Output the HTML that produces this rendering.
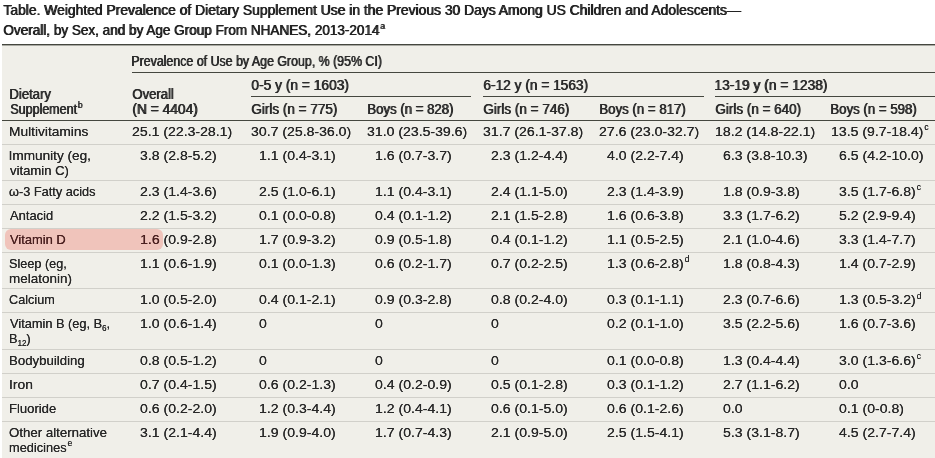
<!DOCTYPE html>
<html><head><meta charset="utf-8"><style>
html,body{margin:0;padding:0;background:#fff;}
body{width:935px;height:458px;position:relative;overflow:hidden;font-family:"Liberation Sans",sans-serif;color:#282828;}
.t{position:absolute;white-space:pre;line-height:16px;transform-origin:0 0;}
.l{position:absolute;}
.hl{position:absolute;background:#ffd1cd;border-radius:6px;z-index:5;mix-blend-mode:multiply;}
sup{font-size:68%;vertical-align:0;position:relative;top:-0.6em;margin-left:1px;}
sup.ds{font-size:60%;top:-0.7em;}
sup.ts{top:-0.75em;font-size:60%;}
sub{font-size:62%;vertical-align:0;position:relative;top:0.3em;}
</style></head><body>
<div class="t" style="left:3.39px;top:2.11px;font-size:14.4px;color:#222;text-shadow:0.9px 0 0 #222;transform:scaleX(0.9636);">Table. Weighted Prevalence of Dietary Supplement Use in the Previous 30 Days Among US Children and Adolescents—</div>
<div class="t" style="left:3.06px;top:22.31px;font-size:14.4px;color:#222;text-shadow:0.9px 0 0 #222;transform:scaleX(0.9404);">Overall, by Sex, and by Age Group From NHANES, 2013-2014<sup class='ts'>a</sup></div>
<div class="l" style="left:2px;top:44px;width:933px;height:414px;background:#f0efe9"></div>
<div class="l" style="left:2px;width:933px;top:44px;height:1px;background:#45473f"></div>
<div class="l" style="left:2px;width:933px;top:45px;height:1px;background:#a9aaa3"></div>
<div class="t" style="left:131.28px;top:53.21px;font-size:14.4px;color:#2b2b2b;text-shadow:0.85px 0 0 #2b2b2b;transform:scaleX(0.8608);">Prevalence of Use by Age Group, % (95% CI)</div>
<div class="l" style="left:132px;width:803px;top:72px;height:1px;background:#45473f"></div>
<div class="t" style="left:250.96px;top:76.81px;font-size:14.4px;color:#2b2b2b;text-shadow:0.85px 0 0 #2b2b2b;transform:scaleX(0.9568);">0-5 y (n = 1603)</div>
<div class="t" style="left:482.80px;top:76.81px;font-size:14.4px;color:#2b2b2b;text-shadow:0.85px 0 0 #2b2b2b;transform:scaleX(0.9522);">6-12 y (n = 1563)</div>
<div class="t" style="left:714.45px;top:76.81px;font-size:14.4px;color:#2b2b2b;text-shadow:0.85px 0 0 #2b2b2b;transform:scaleX(0.9584);">13-19 y (n = 1238)</div>
<div class="l" style="left:251px;width:220px;top:96px;height:1px;background:#45473f"></div>
<div class="l" style="left:483px;width:220.5px;top:96px;height:1px;background:#45473f"></div>
<div class="l" style="left:715px;width:220px;top:96px;height:1px;background:#45473f"></div>
<div class="t" style="left:9.12px;top:85.61px;font-size:14.4px;color:#2b2b2b;text-shadow:0.85px 0 0 #2b2b2b;transform:scaleX(0.9122);">Dietary</div>
<div class="t" style="left:9.63px;top:100.61px;font-size:14.4px;color:#2b2b2b;text-shadow:0.85px 0 0 #2b2b2b;transform:scaleX(0.8674);">Supplement<sup>b</sup></div>
<div class="t" style="left:131.88px;top:85.61px;font-size:14.4px;color:#2b2b2b;text-shadow:0.85px 0 0 #2b2b2b;transform:scaleX(0.9098);">Overall</div>
<div class="t" style="left:131.65px;top:100.61px;font-size:14.4px;color:#2b2b2b;text-shadow:0.85px 0 0 #2b2b2b;transform:scaleX(0.9566);">(N = 4404)</div>
<div class="t" style="left:250.82px;top:100.81px;font-size:14.4px;color:#2b2b2b;text-shadow:0.85px 0 0 #2b2b2b;transform:scaleX(0.9388);">Girls (n = 775)</div>
<div class="t" style="left:366.67px;top:100.81px;font-size:14.4px;color:#2b2b2b;text-shadow:0.85px 0 0 #2b2b2b;transform:scaleX(0.9160);">Boys (n = 828)</div>
<div class="t" style="left:482.82px;top:100.81px;font-size:14.4px;color:#2b2b2b;text-shadow:0.85px 0 0 #2b2b2b;transform:scaleX(0.9388);">Girls (n = 746)</div>
<div class="t" style="left:598.66px;top:100.81px;font-size:14.4px;color:#2b2b2b;text-shadow:0.85px 0 0 #2b2b2b;transform:scaleX(0.9188);">Boys (n = 817)</div>
<div class="t" style="left:714.82px;top:100.81px;font-size:14.4px;color:#2b2b2b;text-shadow:0.85px 0 0 #2b2b2b;transform:scaleX(0.9360);">Girls (n = 640)</div>
<div class="t" style="left:830.41px;top:100.81px;font-size:14.4px;color:#2b2b2b;text-shadow:0.85px 0 0 #2b2b2b;transform:scaleX(0.9188);">Boys (n = 598)</div>
<div class="l" style="left:2px;width:933px;top:120px;height:1px;background:#45473f"></div>
<div class="t" style="left:8.67px;top:123.99px;font-size:13.6px;text-shadow:0.12px 0 0 #282828;transform:scaleX(1.0093);">Multivitamins</div>
<div class="t" style="left:131.80px;top:123.99px;font-size:13.6px;text-shadow:0.12px 0 0 #282828;transform:scaleX(1.0350);">25.1 (22.3-28.1)</div>
<div class="t" style="left:251.00px;top:123.99px;font-size:13.6px;text-shadow:0.12px 0 0 #282828;transform:scaleX(1.0350);">30.7 (25.8-36.0)</div>
<div class="t" style="left:367.20px;top:123.99px;font-size:13.6px;text-shadow:0.12px 0 0 #282828;transform:scaleX(1.0350);">31.0 (23.5-39.6)</div>
<div class="t" style="left:483.00px;top:123.99px;font-size:13.6px;text-shadow:0.12px 0 0 #282828;transform:scaleX(1.0350);">31.7 (26.1-37.8)</div>
<div class="t" style="left:599.20px;top:123.99px;font-size:13.6px;text-shadow:0.12px 0 0 #282828;transform:scaleX(1.0350);">27.6 (23.0-32.7)</div>
<div class="t" style="left:715.00px;top:123.99px;font-size:13.6px;text-shadow:0.12px 0 0 #282828;transform:scaleX(1.0350);">18.2 (14.8-22.1)</div>
<div class="t" style="left:831.20px;top:123.99px;font-size:13.6px;text-shadow:0.12px 0 0 #282828;transform:scaleX(1.0350);">13.5 (9.7-18.4)<sup class="ds">c</sup></div>
<div class="l" style="left:2px;width:933px;top:144px;height:1px;background:#d1d0ca"></div>
<div class="t" style="left:8.55px;top:147.79px;font-size:13.6px;text-shadow:0.12px 0 0 #282828;">Immunity (eg,</div>
<div class="t" style="left:9.76px;top:162.79px;font-size:13.6px;text-shadow:0.12px 0 0 #282828;transform:scaleX(0.9616);">vitamin C)</div>
<div class="t" style="left:139.63px;top:147.79px;font-size:13.6px;text-shadow:0.12px 0 0 #282828;transform:scaleX(1.0350);">3.8 (2.8-5.2)</div>
<div class="t" style="left:258.83px;top:147.79px;font-size:13.6px;text-shadow:0.12px 0 0 #282828;transform:scaleX(1.0350);">1.1 (0.4-3.1)</div>
<div class="t" style="left:375.03px;top:147.79px;font-size:13.6px;text-shadow:0.12px 0 0 #282828;transform:scaleX(1.0350);">1.6 (0.7-3.7)</div>
<div class="t" style="left:490.83px;top:147.79px;font-size:13.6px;text-shadow:0.12px 0 0 #282828;transform:scaleX(1.0350);">2.3 (1.2-4.4)</div>
<div class="t" style="left:607.03px;top:147.79px;font-size:13.6px;text-shadow:0.12px 0 0 #282828;transform:scaleX(1.0350);">4.0 (2.2-7.4)</div>
<div class="t" style="left:722.83px;top:147.79px;font-size:13.6px;text-shadow:0.12px 0 0 #282828;transform:scaleX(1.0350);">6.3 (3.8-10.3)</div>
<div class="t" style="left:839.03px;top:147.79px;font-size:13.6px;text-shadow:0.12px 0 0 #282828;transform:scaleX(1.0350);">6.5 (4.2-10.0)</div>
<div class="l" style="left:2px;width:933px;top:180px;height:1px;background:#d1d0ca"></div>
<div class="t" style="left:9.28px;top:183.99px;font-size:13.6px;text-shadow:0.12px 0 0 #282828;transform:scaleX(0.9375);">ω-3 Fatty acids</div>
<div class="t" style="left:139.63px;top:183.99px;font-size:13.6px;text-shadow:0.12px 0 0 #282828;transform:scaleX(1.0350);">2.3 (1.4-3.6)</div>
<div class="t" style="left:258.83px;top:183.99px;font-size:13.6px;text-shadow:0.12px 0 0 #282828;transform:scaleX(1.0350);">2.5 (1.0-6.1)</div>
<div class="t" style="left:375.03px;top:183.99px;font-size:13.6px;text-shadow:0.12px 0 0 #282828;transform:scaleX(1.0350);">1.1 (0.4-3.1)</div>
<div class="t" style="left:490.83px;top:183.99px;font-size:13.6px;text-shadow:0.12px 0 0 #282828;transform:scaleX(1.0350);">2.4 (1.1-5.0)</div>
<div class="t" style="left:607.03px;top:183.99px;font-size:13.6px;text-shadow:0.12px 0 0 #282828;transform:scaleX(1.0350);">2.3 (1.4-3.9)</div>
<div class="t" style="left:722.83px;top:183.99px;font-size:13.6px;text-shadow:0.12px 0 0 #282828;transform:scaleX(1.0350);">1.8 (0.9-3.8)</div>
<div class="t" style="left:839.03px;top:183.99px;font-size:13.6px;text-shadow:0.12px 0 0 #282828;transform:scaleX(1.0350);">3.5 (1.7-6.8)<sup class="ds">c</sup></div>
<div class="l" style="left:2px;width:933px;top:204px;height:1px;background:#d1d0ca"></div>
<div class="t" style="left:9.77px;top:207.89px;font-size:13.6px;text-shadow:0.12px 0 0 #282828;transform:scaleX(0.9504);">Antacid</div>
<div class="t" style="left:139.63px;top:207.89px;font-size:13.6px;text-shadow:0.12px 0 0 #282828;transform:scaleX(1.0350);">2.2 (1.5-3.2)</div>
<div class="t" style="left:258.83px;top:207.89px;font-size:13.6px;text-shadow:0.12px 0 0 #282828;transform:scaleX(1.0350);">0.1 (0.0-0.8)</div>
<div class="t" style="left:375.03px;top:207.89px;font-size:13.6px;text-shadow:0.12px 0 0 #282828;transform:scaleX(1.0350);">0.4 (0.1-1.2)</div>
<div class="t" style="left:490.83px;top:207.89px;font-size:13.6px;text-shadow:0.12px 0 0 #282828;transform:scaleX(1.0350);">2.1 (1.5-2.8)</div>
<div class="t" style="left:607.03px;top:207.89px;font-size:13.6px;text-shadow:0.12px 0 0 #282828;transform:scaleX(1.0350);">1.6 (0.6-3.8)</div>
<div class="t" style="left:722.83px;top:207.89px;font-size:13.6px;text-shadow:0.12px 0 0 #282828;transform:scaleX(1.0350);">3.3 (1.7-6.2)</div>
<div class="t" style="left:839.03px;top:207.89px;font-size:13.6px;text-shadow:0.12px 0 0 #282828;transform:scaleX(1.0350);">5.2 (2.9-9.4)</div>
<div class="l" style="left:2px;width:933px;top:228px;height:1px;background:#d1d0ca"></div>
<div class="hl" style="left:4.75px;top:229px;width:158px;height:21px;"></div>
<div class="t" style="left:9.74px;top:231.99px;font-size:13.6px;color:#4a2626;text-shadow:0.12px 0 0 #4a2626;transform:scaleX(0.9484);">Vitamin D</div>
<div class="t" style="left:139.63px;top:231.99px;font-size:13.6px;text-shadow:0.12px 0 0 #282828;transform:scaleX(1.0350);"><span style="color:#4a2626;text-shadow:0.2px 0 0 #4a2626">1.6</span> (0.9-2.8)</div>
<div class="t" style="left:258.83px;top:231.99px;font-size:13.6px;text-shadow:0.12px 0 0 #282828;transform:scaleX(1.0350);">1.7 (0.9-3.2)</div>
<div class="t" style="left:375.03px;top:231.99px;font-size:13.6px;text-shadow:0.12px 0 0 #282828;transform:scaleX(1.0350);">0.9 (0.5-1.8)</div>
<div class="t" style="left:490.83px;top:231.99px;font-size:13.6px;text-shadow:0.12px 0 0 #282828;transform:scaleX(1.0350);">0.4 (0.1-1.2)</div>
<div class="t" style="left:607.03px;top:231.99px;font-size:13.6px;text-shadow:0.12px 0 0 #282828;transform:scaleX(1.0350);">1.1 (0.5-2.5)</div>
<div class="t" style="left:722.83px;top:231.99px;font-size:13.6px;text-shadow:0.12px 0 0 #282828;transform:scaleX(1.0350);">2.1 (1.0-4.6)</div>
<div class="t" style="left:839.03px;top:231.99px;font-size:13.6px;text-shadow:0.12px 0 0 #282828;transform:scaleX(1.0350);">3.3 (1.4-7.7)</div>
<div class="l" style="left:2px;width:933px;top:252px;height:1px;background:#d1d0ca"></div>
<div class="t" style="left:9.23px;top:255.99px;font-size:13.6px;text-shadow:0.12px 0 0 #282828;transform:scaleX(0.9310);">Sleep (eg,</div>
<div class="t" style="left:8.90px;top:270.99px;font-size:13.6px;text-shadow:0.12px 0 0 #282828;transform:scaleX(0.9920);">melatonin)</div>
<div class="t" style="left:139.63px;top:255.99px;font-size:13.6px;text-shadow:0.12px 0 0 #282828;transform:scaleX(1.0350);">1.1 (0.6-1.9)</div>
<div class="t" style="left:258.83px;top:255.99px;font-size:13.6px;text-shadow:0.12px 0 0 #282828;transform:scaleX(1.0350);">0.1 (0.0-1.3)</div>
<div class="t" style="left:375.03px;top:255.99px;font-size:13.6px;text-shadow:0.12px 0 0 #282828;transform:scaleX(1.0350);">0.6 (0.2-1.7)</div>
<div class="t" style="left:490.83px;top:255.99px;font-size:13.6px;text-shadow:0.12px 0 0 #282828;transform:scaleX(1.0350);">0.7 (0.2-2.5)</div>
<div class="t" style="left:607.03px;top:255.99px;font-size:13.6px;text-shadow:0.12px 0 0 #282828;transform:scaleX(1.0350);">1.3 (0.6-2.8)<sup class="ds">d</sup></div>
<div class="t" style="left:722.83px;top:255.99px;font-size:13.6px;text-shadow:0.12px 0 0 #282828;transform:scaleX(1.0350);">1.8 (0.8-4.3)</div>
<div class="t" style="left:839.03px;top:255.99px;font-size:13.6px;text-shadow:0.12px 0 0 #282828;transform:scaleX(1.0350);">1.4 (0.7-2.9)</div>
<div class="l" style="left:2px;width:933px;top:288px;height:1px;background:#d1d0ca"></div>
<div class="t" style="left:9.16px;top:292.29px;font-size:13.6px;text-shadow:0.12px 0 0 #282828;transform:scaleX(0.9309);">Calcium</div>
<div class="t" style="left:139.63px;top:292.29px;font-size:13.6px;text-shadow:0.12px 0 0 #282828;transform:scaleX(1.0350);">1.0 (0.5-2.0)</div>
<div class="t" style="left:258.83px;top:292.29px;font-size:13.6px;text-shadow:0.12px 0 0 #282828;transform:scaleX(1.0350);">0.4 (0.1-2.1)</div>
<div class="t" style="left:375.03px;top:292.29px;font-size:13.6px;text-shadow:0.12px 0 0 #282828;transform:scaleX(1.0350);">0.9 (0.3-2.8)</div>
<div class="t" style="left:490.83px;top:292.29px;font-size:13.6px;text-shadow:0.12px 0 0 #282828;transform:scaleX(1.0350);">0.8 (0.2-4.0)</div>
<div class="t" style="left:607.03px;top:292.29px;font-size:13.6px;text-shadow:0.12px 0 0 #282828;transform:scaleX(1.0350);">0.3 (0.1-1.1)</div>
<div class="t" style="left:722.83px;top:292.29px;font-size:13.6px;text-shadow:0.12px 0 0 #282828;transform:scaleX(1.0350);">2.3 (0.7-6.6)</div>
<div class="t" style="left:839.03px;top:292.29px;font-size:13.6px;text-shadow:0.12px 0 0 #282828;transform:scaleX(1.0350);">1.3 (0.5-3.2)<sup class="ds">d</sup></div>
<div class="l" style="left:2px;width:933px;top:312px;height:1px;background:#d1d0ca"></div>
<div class="t" style="left:9.74px;top:316.39px;font-size:13.6px;text-shadow:0.12px 0 0 #282828;transform:scaleX(0.9400);">Vitamin B (eg, B<sub>6</sub>,</div>
<div class="t" style="left:8.75px;top:331.39px;font-size:13.6px;text-shadow:0.12px 0 0 #282828;transform:scaleX(0.9400);">B<sub>12</sub>)</div>
<div class="t" style="left:139.63px;top:316.39px;font-size:13.6px;text-shadow:0.12px 0 0 #282828;transform:scaleX(1.0350);">1.0 (0.6-1.4)</div>
<div class="t" style="left:258.83px;top:316.39px;font-size:13.6px;text-shadow:0.12px 0 0 #282828;transform:scaleX(1.0350);">0</div>
<div class="t" style="left:375.03px;top:316.39px;font-size:13.6px;text-shadow:0.12px 0 0 #282828;transform:scaleX(1.0350);">0</div>
<div class="t" style="left:490.83px;top:316.39px;font-size:13.6px;text-shadow:0.12px 0 0 #282828;transform:scaleX(1.0350);">0</div>
<div class="t" style="left:607.03px;top:316.39px;font-size:13.6px;text-shadow:0.12px 0 0 #282828;transform:scaleX(1.0350);">0.2 (0.1-1.0)</div>
<div class="t" style="left:722.83px;top:316.39px;font-size:13.6px;text-shadow:0.12px 0 0 #282828;transform:scaleX(1.0350);">3.5 (2.2-5.6)</div>
<div class="t" style="left:839.03px;top:316.39px;font-size:13.6px;text-shadow:0.12px 0 0 #282828;transform:scaleX(1.0350);">1.6 (0.7-3.6)</div>
<div class="l" style="left:2px;width:933px;top:349px;height:1px;background:#d1d0ca"></div>
<div class="t" style="left:8.72px;top:352.79px;font-size:13.6px;text-shadow:0.12px 0 0 #282828;transform:scaleX(0.9719);">Bodybuilding</div>
<div class="t" style="left:139.63px;top:352.79px;font-size:13.6px;text-shadow:0.12px 0 0 #282828;transform:scaleX(1.0350);">0.8 (0.5-1.2)</div>
<div class="t" style="left:258.83px;top:352.79px;font-size:13.6px;text-shadow:0.12px 0 0 #282828;transform:scaleX(1.0350);">0</div>
<div class="t" style="left:375.03px;top:352.79px;font-size:13.6px;text-shadow:0.12px 0 0 #282828;transform:scaleX(1.0350);">0</div>
<div class="t" style="left:490.83px;top:352.79px;font-size:13.6px;text-shadow:0.12px 0 0 #282828;transform:scaleX(1.0350);">0</div>
<div class="t" style="left:607.03px;top:352.79px;font-size:13.6px;text-shadow:0.12px 0 0 #282828;transform:scaleX(1.0350);">0.1 (0.0-0.8)</div>
<div class="t" style="left:722.83px;top:352.79px;font-size:13.6px;text-shadow:0.12px 0 0 #282828;transform:scaleX(1.0350);">1.3 (0.4-4.4)</div>
<div class="t" style="left:839.03px;top:352.79px;font-size:13.6px;text-shadow:0.12px 0 0 #282828;transform:scaleX(1.0350);">3.0 (1.3-6.6)<sup class="ds">c</sup></div>
<div class="l" style="left:2px;width:933px;top:373px;height:1px;background:#d1d0ca"></div>
<div class="t" style="left:8.52px;top:376.89px;font-size:13.6px;text-shadow:0.12px 0 0 #282828;transform:scaleX(1.0214);">Iron</div>
<div class="t" style="left:139.63px;top:376.89px;font-size:13.6px;text-shadow:0.12px 0 0 #282828;transform:scaleX(1.0350);">0.7 (0.4-1.5)</div>
<div class="t" style="left:258.83px;top:376.89px;font-size:13.6px;text-shadow:0.12px 0 0 #282828;transform:scaleX(1.0350);">0.6 (0.2-1.3)</div>
<div class="t" style="left:375.03px;top:376.89px;font-size:13.6px;text-shadow:0.12px 0 0 #282828;transform:scaleX(1.0350);">0.4 (0.2-0.9)</div>
<div class="t" style="left:490.83px;top:376.89px;font-size:13.6px;text-shadow:0.12px 0 0 #282828;transform:scaleX(1.0350);">0.5 (0.1-2.8)</div>
<div class="t" style="left:607.03px;top:376.89px;font-size:13.6px;text-shadow:0.12px 0 0 #282828;transform:scaleX(1.0350);">0.3 (0.1-1.2)</div>
<div class="t" style="left:722.83px;top:376.89px;font-size:13.6px;text-shadow:0.12px 0 0 #282828;transform:scaleX(1.0350);">2.7 (1.1-6.2)</div>
<div class="t" style="left:839.03px;top:376.89px;font-size:13.6px;text-shadow:0.12px 0 0 #282828;transform:scaleX(1.0350);">0.0</div>
<div class="l" style="left:2px;width:933px;top:397px;height:1px;background:#d1d0ca"></div>
<div class="t" style="left:8.73px;top:400.79px;font-size:13.6px;text-shadow:0.12px 0 0 #282828;transform:scaleX(0.9597);">Fluoride</div>
<div class="t" style="left:139.63px;top:400.79px;font-size:13.6px;text-shadow:0.12px 0 0 #282828;transform:scaleX(1.0350);">0.6 (0.2-2.0)</div>
<div class="t" style="left:258.83px;top:400.79px;font-size:13.6px;text-shadow:0.12px 0 0 #282828;transform:scaleX(1.0350);">1.2 (0.3-4.4)</div>
<div class="t" style="left:375.03px;top:400.79px;font-size:13.6px;text-shadow:0.12px 0 0 #282828;transform:scaleX(1.0350);">1.2 (0.4-4.1)</div>
<div class="t" style="left:490.83px;top:400.79px;font-size:13.6px;text-shadow:0.12px 0 0 #282828;transform:scaleX(1.0350);">0.6 (0.1-5.0)</div>
<div class="t" style="left:607.03px;top:400.79px;font-size:13.6px;text-shadow:0.12px 0 0 #282828;transform:scaleX(1.0350);">0.6 (0.1-2.6)</div>
<div class="t" style="left:722.83px;top:400.79px;font-size:13.6px;text-shadow:0.12px 0 0 #282828;transform:scaleX(1.0350);">0.0</div>
<div class="t" style="left:839.03px;top:400.79px;font-size:13.6px;text-shadow:0.12px 0 0 #282828;transform:scaleX(1.0350);">0.1 (0-0.8)</div>
<div class="l" style="left:2px;width:933px;top:421px;height:1px;background:#d1d0ca"></div>
<div class="t" style="left:9.17px;top:424.89px;font-size:13.6px;text-shadow:0.12px 0 0 #282828;transform:scaleX(0.9745);">Other alternative</div>
<div class="t" style="left:8.95px;top:439.89px;font-size:13.6px;text-shadow:0.12px 0 0 #282828;transform:scaleX(0.9400);">medicines<sup>e</sup></div>
<div class="t" style="left:139.63px;top:424.89px;font-size:13.6px;text-shadow:0.12px 0 0 #282828;transform:scaleX(1.0350);">3.1 (2.1-4.4)</div>
<div class="t" style="left:258.83px;top:424.89px;font-size:13.6px;text-shadow:0.12px 0 0 #282828;transform:scaleX(1.0350);">1.9 (0.9-4.0)</div>
<div class="t" style="left:375.03px;top:424.89px;font-size:13.6px;text-shadow:0.12px 0 0 #282828;transform:scaleX(1.0350);">1.7 (0.7-4.3)</div>
<div class="t" style="left:490.83px;top:424.89px;font-size:13.6px;text-shadow:0.12px 0 0 #282828;transform:scaleX(1.0350);">2.1 (0.9-5.0)</div>
<div class="t" style="left:607.03px;top:424.89px;font-size:13.6px;text-shadow:0.12px 0 0 #282828;transform:scaleX(1.0350);">2.5 (1.5-4.1)</div>
<div class="t" style="left:722.83px;top:424.89px;font-size:13.6px;text-shadow:0.12px 0 0 #282828;transform:scaleX(1.0350);">5.3 (3.1-8.7)</div>
<div class="t" style="left:839.03px;top:424.89px;font-size:13.6px;text-shadow:0.12px 0 0 #282828;transform:scaleX(1.0350);">4.5 (2.7-7.4)</div>
</body></html>
